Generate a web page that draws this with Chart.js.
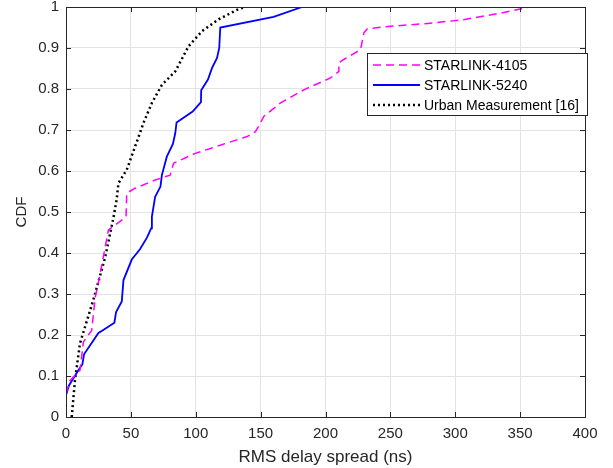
<!DOCTYPE html>
<html>
<head>
<meta charset="utf-8">
<script src="https://cdn.jsdelivr.net/npm/chart.js@4.4.1/dist/chart.umd.min.js"></script>
<style>
  html, body { margin: 0; padding: 0; background: #fff; }
  #wrap { width: 613px; height: 468px; }
</style>
</head>
<body>
<div id="wrap"><canvas id="cdf" width="613" height="468"></canvas></div>
<script>
// RMS delay spread CDFs (ns)
const s4105X = [0, 3.1, 10.8, 13.4, 19.8, 22.4, 26.3, 32.7, 43, 46.3, 46.8, 53.3, 68.7, 80.3, 82.9, 99.6, 120, 139.5, 146, 149.8, 152.4, 165.3, 183.3, 203.9, 210.3, 210.3, 214, 227, 229.6, 232.2, 250, 278.5, 304, 335, 357];
const s4105Y = [0.057, 0.089, 0.114, 0.183, 0.211, 0.289, 0.35, 0.456, 0.48, 0.489, 0.546, 0.558, 0.578, 0.59, 0.619, 0.643, 0.664, 0.684, 0.696, 0.717, 0.733, 0.766, 0.798, 0.827, 0.843, 0.864, 0.872, 0.896, 0.937, 0.947, 0.953, 0.96, 0.968, 0.985, 1.0];

const s5240X = [0, 2.3, 9.5, 12.6, 13.9, 25, 27.5, 37.3, 38.6, 43, 44.3, 50.7, 57, 62.5, 65.6, 66.2, 68.7, 72.8, 73.9, 77.7, 82.4, 84.2, 85.2, 97.6, 104, 104.2, 109.4, 112.5, 116.4, 118.1, 118.9, 160, 182];
const s5240Y = [0.053, 0.077, 0.114, 0.128, 0.153, 0.205, 0.21, 0.23, 0.256, 0.282, 0.334, 0.384, 0.409, 0.438, 0.46, 0.489, 0.537, 0.562, 0.59, 0.635, 0.666, 0.692, 0.718, 0.745, 0.768, 0.797, 0.823, 0.851, 0.876, 0.9, 0.95, 0.976, 1.0];

const urbanX = [4.4, 6.9, 10.8, 21, 30, 36.5, 39, 40.4, 46.8, 53.3, 59.7, 66.2, 73.9, 84.2, 94.4, 104.8, 117.6, 133, 138];
const urbanY = [0, 0.089, 0.18, 0.285, 0.387, 0.485, 0.529, 0.57, 0.603, 0.66, 0.717, 0.766, 0.81, 0.843, 0.904, 0.941, 0.97, 0.995, 1.0];

const seriesNames = ["STARLINK-4105", "STARLINK-5240", "Urban Measurement [16]"];

const FONT = "'Liberation Sans', Arial, Helvetica, sans-serif";
const INK = "#262626";

const pts = (xs, ys) => xs.map((x, i) => ({ x, y: ys[i] }));

// box around the axes with inward tick marks on all four sides
const frame = {
    id: "frame",
    afterDraw(chart) {
        const { ctx, chartArea: a, scales } = chart;
        ctx.save();
        ctx.strokeStyle = INK;
        ctx.lineWidth = 1;
        ctx.strokeRect(Math.round(a.left) + 0.5, Math.round(a.top) + 0.5,
            Math.round(a.right - a.left), Math.round(a.bottom - a.top));
        const len = 5;
        ctx.beginPath();
        scales.x.ticks.forEach(t => {
            const px = Math.round(scales.x.getPixelForValue(t.value)) + 0.5;
            ctx.moveTo(px, a.bottom); ctx.lineTo(px, a.bottom - len);
            ctx.moveTo(px, a.top); ctx.lineTo(px, a.top + len);
        });
        scales.y.ticks.forEach(t => {
            const py = Math.round(scales.y.getPixelForValue(t.value)) + 0.5;
            ctx.moveTo(a.left, py); ctx.lineTo(a.left + len, py);
            ctx.moveTo(a.right, py); ctx.lineTo(a.right - len, py);
        });
        ctx.stroke();
        ctx.restore();
    }
};

// legend box in the upper right of the axes
const boxLegend = {
    id: "boxLegend",
    afterDraw(chart) {
        const { ctx } = chart;
        const x0 = 367, y0 = 53, w = 220, h = 62, rowH = 20;
        ctx.save();
        ctx.fillStyle = "#fff";
        ctx.fillRect(x0, y0, w, h);
        ctx.strokeStyle = INK;
        ctx.lineWidth = 1;
        ctx.strokeRect(x0 + 0.5, y0 + 0.5, w, h);
        ctx.font = "14px " + FONT;
        ctx.textBaseline = "middle";
        chart.data.datasets.forEach((ds, i) => {
            const cy = y0 + 12 + i * rowH;
            ctx.strokeStyle = ds.borderColor;
            ctx.lineWidth = ds.borderWidth;
            ctx.setLineDash(ds.borderDash || []);
            ctx.beginPath();
            ctx.moveTo(x0 + 6, cy);
            ctx.lineTo(x0 + 53, cy);
            ctx.stroke();
            ctx.setLineDash([]);
            ctx.fillStyle = "#000";
            ctx.fillText(ds.label, x0 + 57, cy + 1);
        });
        ctx.restore();
    }
};

new Chart(document.getElementById("cdf"), {
    type: "scatter",
    data: {
        datasets: [
            { label: seriesNames[0], data: pts(s4105X, s4105Y), borderColor: "#ff00ff", borderWidth: 1.5, borderDash: [8, 5] },
            { label: seriesNames[1], data: pts(s5240X, s5240Y), borderColor: "#0000ff", borderWidth: 1.8 },
            { label: seriesNames[2], data: pts(urbanX, urbanY), borderColor: "#000000", borderWidth: 2.5, borderDash: [2, 3] }
        ].map(d => Object.assign(d, { showLine: true, pointRadius: 0, tension: 0, fill: false }))
    },
    options: {
        responsive: false,
        animation: false,
        layout: { padding: { left: 0, top: 7, right: 28, bottom: 0 } },
        plugins: { legend: { display: false }, tooltip: { enabled: false } },
        scales: {
            x: {
                type: "linear", min: 0, max: 400,
                ticks: { stepSize: 50, color: INK, font: { family: FONT, size: 15 }, padding: 8, maxRotation: 0 },
                grid: { color: "#e3e3e3", drawTicks: false },
                border: { display: false },
                title: { display: true, text: "RMS delay spread (ns)", color: INK, font: { family: FONT, size: 17 }, padding: { top: 0, bottom: 0 } },
                afterFit: s => { s.height = 51; s.paddingLeft = 0; s.paddingRight = 0; }
            },
            y: {
                type: "linear", min: 0, max: 1,
                ticks: {
                    stepSize: 0.1, color: INK, font: { family: FONT, size: 15 }, padding: 7,
                    callback: v => String(Math.round(v * 10) / 10)
                },
                grid: { color: "#e3e3e3", drawTicks: false },
                border: { display: false },
                title: { display: true, text: "CDF", color: INK, font: { family: FONT, size: 15 }, padding: { top: 13, bottom: 0 } },
                afterFit: s => { s.width = 66; s.paddingTop = 0; s.paddingBottom = 0; }
            }
        }
    },
    plugins: [frame, boxLegend]
});
</script>
</body>
</html>
